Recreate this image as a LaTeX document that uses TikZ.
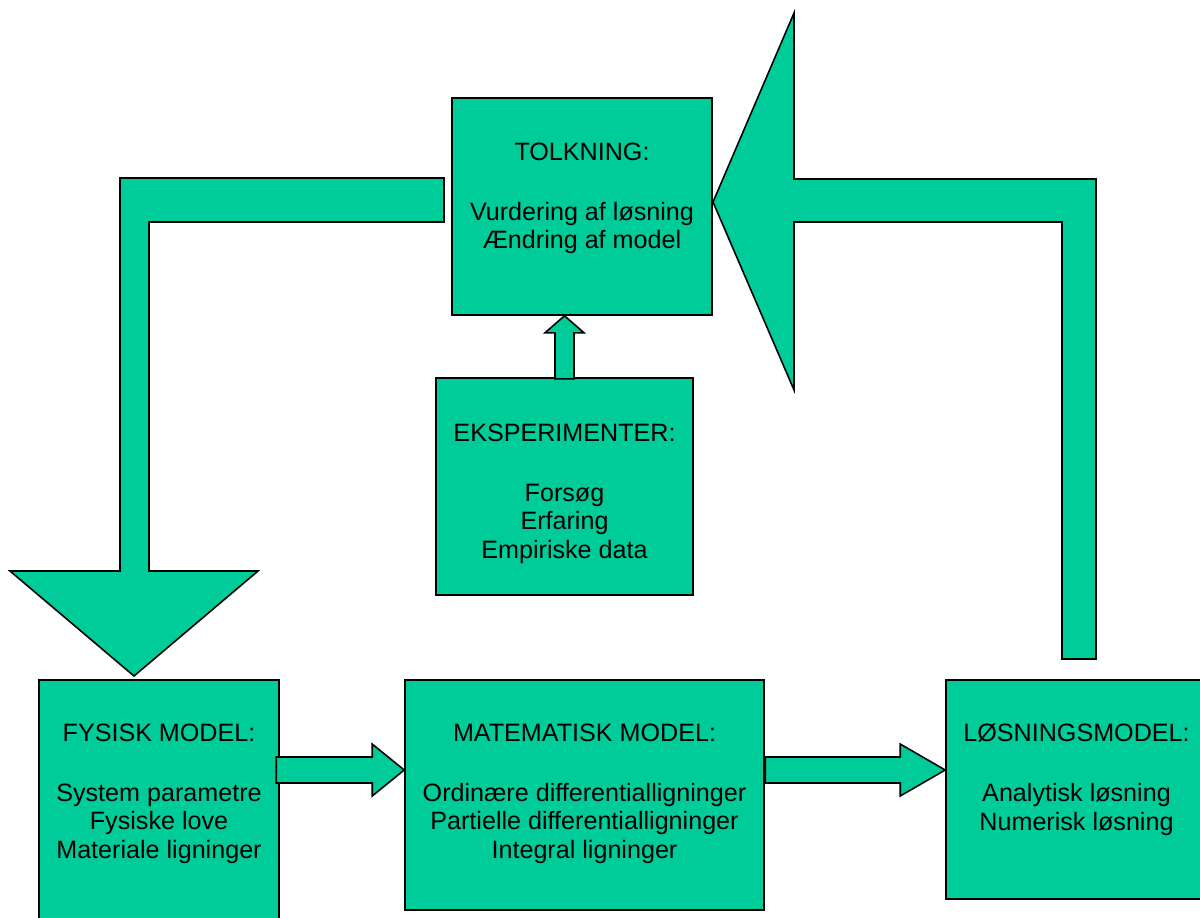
\documentclass[tikz,border=0pt]{standalone}
\usepackage{fontspec}
\setmainfont{Liberation Sans}
\usetikzlibrary{positioning}

\definecolor{boxgreen}{HTML}{00CC99}

\tikzset{
  box/.style={rectangle, draw=black, line width=0.9pt, fill=boxgreen, inner sep=0pt},
  boxtext/.style={inner sep=0pt, align=center, font=\fontsize{14.3}{16.3}\selectfont},
  blockarrow/.style={draw=black, line width=0.9pt, fill=boxgreen, line join=miter},
}

\begin{document}
\begin{tikzpicture}[x=0.2mm, y=-0.2mm]

    % --- Frame (pixel grid, y pointing down) ---
    \useasboundingbox (0,0) rectangle (1200,917);

    % --- Boxes ---
    \node[box, minimum width=52mm, minimum height=43.4mm] (tolk) at (582,206.5) {};
    \node[box, minimum width=51.4mm, minimum height=43.4mm] (eks) at (564.5,486.5) {};
    \node[box, minimum width=48mm, minimum height=50mm] (fys) at (159,805) {};
    \node[box, minimum width=71.8mm, minimum height=46mm] (mat) at (584.5,795) {};
    \node[box, minimum width=52.2mm, minimum height=43.8mm] (los) at (1076.5,789.5) {};

    % --- Texts, hanging from the top of each box ---
    \node[boxtext, below=9mm of tolk.north] (tolktxt)
        {TOLKNING:\\ \\[1.5pt]Vurdering af løsning\\Ændring af model};
    \node[boxtext, below=9.2mm of eks.north] (ekstxt)
        {EKSPERIMENTER:\\ \\[1.5pt]Forsøg\\Erfaring\\Empiriske data};
    \node[boxtext, below=8.8mm of fys.north] (fystxt)
        {FYSISK MODEL:\\ \\[1.5pt]System parametre\\Fysiske love\\Materiale ligninger};
    \node[boxtext, below=8.8mm of mat.north] (mattxt)
        {MATEMATISK MODEL:\\ \\[1.5pt]Ordinære differentialligninger\\Partielle differentialligninger\\Integral ligninger};
    \node[boxtext, below=8.8mm of los.north] (lostxt)
        {LØSNINGSMODEL:\\ \\[1.5pt]Analytisk løsning\\Numerisk løsning};

    % --- Straight block arrows ---
    % fysisk -> matematisk
    \draw[blockarrow] ([yshift=5mm]mat.west) -- ++(-32,-26) -- ++(0,13) -- ++(-96,0)
        -- ++(0,26) -- ++(96,0) -- ++(0,13) -- cycle;
    % matematisk -> loesning
    \draw[blockarrow] ([yshift=3.9mm]los.west) -- ++(-45,-26) -- ++(0,13) -- ++(-135,0)
        -- ++(0,26) -- ++(135,0) -- ++(0,13) -- cycle;
    % eksperimenter -> tolkning
    \draw[blockarrow] (tolk.south -| eks.north) -- ++(-19.5,17) -- ++(10,0) -- ++(0,46)
        -- ++(19,0) -- ++(0,-46) -- ++(10,0) -- cycle;

    % --- Bent block arrows ---
    % loesning -> tolkning (wide head)
    \draw[blockarrow] (713,202) -- (794,13) -- (794,179) -- (1096,179) -- (1096,659)
        -- (1062,659) -- (1062,222) -- (794,222) -- (794,390) -- cycle;
    % tolkning -> fysisk
    \draw[blockarrow] (444,178) -- (120,178) -- (120,571) -- (10,571) -- (134,676)
        -- (258,571) -- (149,571) -- (149,222) -- (444,222) -- cycle;

\end{tikzpicture}
\end{document}
